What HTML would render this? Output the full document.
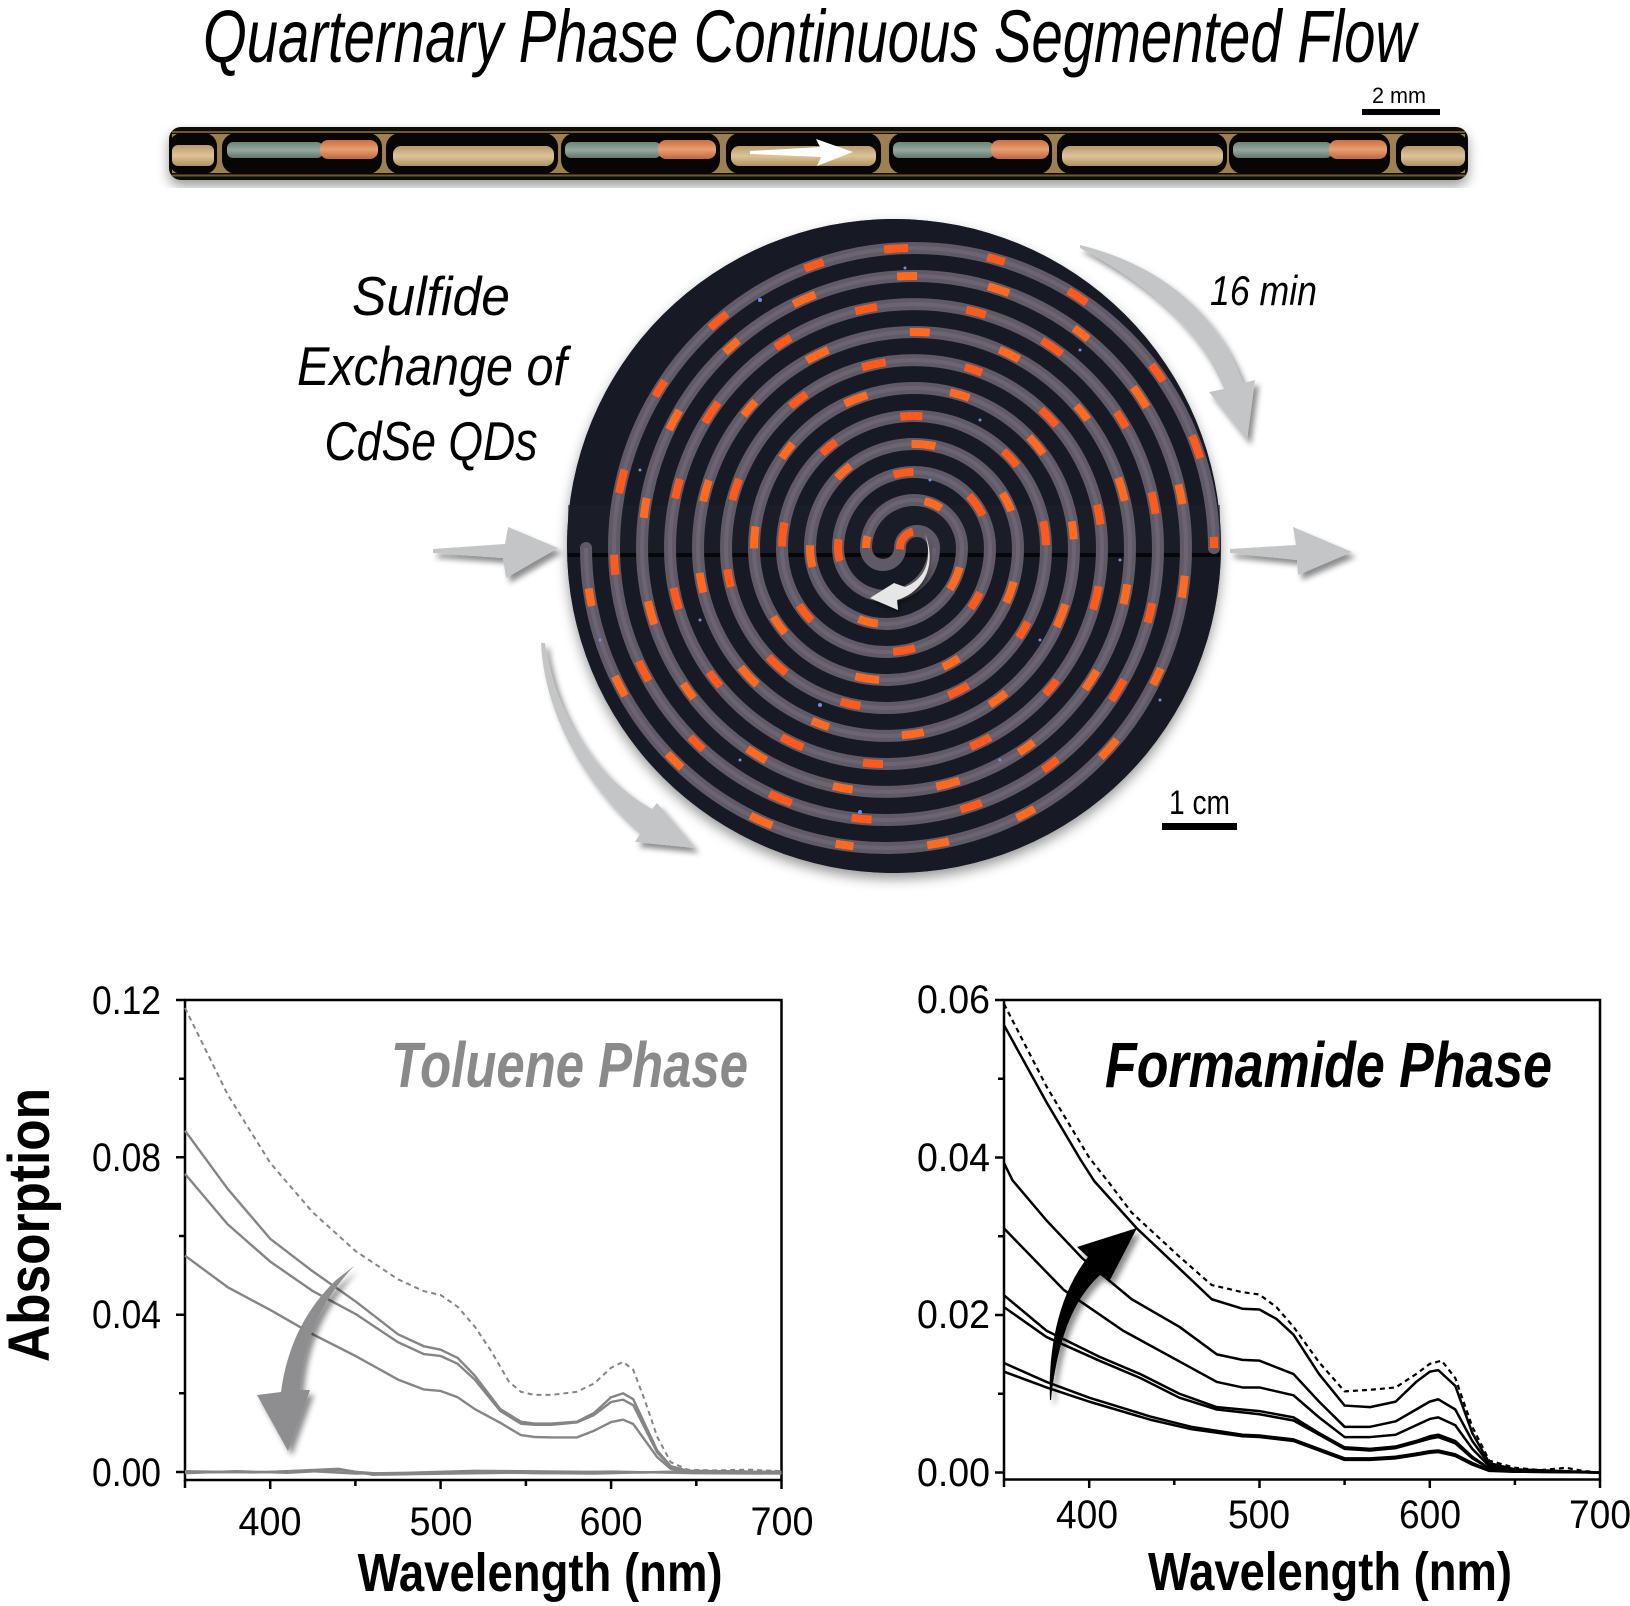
<!DOCTYPE html>
<html>
<head>
<meta charset="utf-8">
<style>
  html,body{margin:0;padding:0;background:#fff;}
  svg{display:block;}
  text{font-family:"Liberation Sans Narrow","Liberation Sans",sans-serif;}
</style>
</head>
<body>
<svg width="1630" height="1606" viewBox="0 0 1630 1606" xmlns="http://www.w3.org/2000/svg">
<defs>
  <filter id="sh" x="-30%" y="-30%" width="170%" height="170%">
    <feDropShadow dx="4" dy="5" stdDeviation="3" flood-color="#000" flood-opacity="0.45"/>
  </filter>
  <filter id="shs" x="-30%" y="-30%" width="170%" height="170%">
    <feDropShadow dx="2" dy="3" stdDeviation="2" flood-color="#000" flood-opacity="0.5"/>
  </filter>
  <filter id="disk" x="-10%" y="-10%" width="120%" height="125%">
    <feDropShadow dx="0" dy="6" stdDeviation="6" flood-color="#000" flood-opacity="0.4"/>
  </filter>
  <linearGradient id="tan" x1="0" y1="0" x2="0" y2="1">
    <stop offset="0" stop-color="#b99b6b"/>
    <stop offset="0.5" stop-color="#dcc398"/>
    <stop offset="1" stop-color="#b0925f"/>
  </linearGradient>
  <linearGradient id="grn" x1="0" y1="0" x2="0" y2="1">
    <stop offset="0" stop-color="#6d8379"/>
    <stop offset="0.5" stop-color="#93a99f"/>
    <stop offset="1" stop-color="#61776d"/>
  </linearGradient>
  <linearGradient id="org" x1="0" y1="0" x2="0" y2="1">
    <stop offset="0" stop-color="#c86e44"/>
    <stop offset="0.5" stop-color="#e8a070"/>
    <stop offset="1" stop-color="#bd6640"/>
  </linearGradient>
</defs>

<!-- Title -->
<text x="203" y="62" font-size="74" font-style="italic" textLength="1213" lengthAdjust="spacingAndGlyphs" fill="#000">Quarternary Phase Continuous Segmented Flow</text>

<!-- 2 mm scale -->
<text x="1372" y="103" font-size="22" textLength="54" lengthAdjust="spacingAndGlyphs" fill="#000">2 mm</text>
<rect x="1362" y="109" width="78" height="6" fill="#000"/>

<!-- Tube -->
<g filter="url(#disk)">
  <rect x="169" y="127" width="1299" height="53" rx="12" fill="#0b0906"/>
</g>
<rect x="172" y="131" width="1293" height="2" fill="#6e5636"/>
<rect x="172" y="174.5" width="1293" height="2" fill="#6e5636"/>
<rect x="172" y="134" width="1293" height="39" fill="#9c7f52"/>
<g fill="#070605">
  <rect x="169" y="133" width="48" height="41" rx="13"/>
  <rect x="222" y="133" width="160" height="41" rx="14"/>
  <rect x="386" y="133" width="172" height="41" rx="14"/>
  <rect x="561" y="133" width="159" height="41" rx="14"/>
  <rect x="726" y="133" width="155" height="41" rx="14"/>
  <rect x="889" y="133" width="163" height="41" rx="14"/>
  <rect x="1057" y="133" width="170" height="41" rx="14"/>
  <rect x="1229" y="133" width="161" height="41" rx="14"/>
  <rect x="1396" y="133" width="72" height="41" rx="13"/>
</g>
<g>
  <rect x="172" y="145" width="42" height="21" rx="6" fill="url(#tan)"/>
  <rect x="227" y="142" width="96" height="16" rx="6" fill="url(#grn)"/>
  <rect x="320" y="140" width="58" height="19" rx="8" fill="url(#org)"/>
  <rect x="393" y="146" width="161" height="20" rx="8" fill="url(#tan)"/>
  <rect x="565" y="142" width="96" height="16" rx="6" fill="url(#grn)"/>
  <rect x="658" y="140" width="58" height="19" rx="8" fill="url(#org)"/>
  <rect x="731" y="146" width="145" height="20" rx="8" fill="url(#tan)"/>
  <rect x="893" y="142" width="101" height="16" rx="6" fill="url(#grn)"/>
  <rect x="991" y="140" width="58" height="19" rx="8" fill="url(#org)"/>
  <rect x="1062" y="146" width="161" height="20" rx="8" fill="url(#tan)"/>
  <rect x="1233" y="142" width="99" height="16" rx="6" fill="url(#grn)"/>
  <rect x="1329" y="140" width="58" height="19" rx="8" fill="url(#org)"/>
  <rect x="1401" y="146" width="64" height="20" rx="7" fill="url(#tan)"/>
</g>
<polygon points="750,151 820,147 816,139 853,152 817,166 821,157 750,154" fill="#ffffff"/>

<!-- Disk -->
<circle cx="894" cy="546" r="327" fill="#161922" filter="url(#disk)"/>
<circle cx="894" cy="546" r="327" fill="#171a24"/>
<rect x="568" y="505" width="652" height="48" fill="#1c1f29" opacity="0.6"/>
<line x1="568" y1="555" x2="1220" y2="555" stroke="#06070b" stroke-width="4"/>

<!-- Spiral -->
<g transform="translate(900,548) scale(1,-1)" fill="none">
  <g stroke="#605966" stroke-width="12" stroke-linecap="round">
    <path d="M-34,0 A17,17 0 0 1 0,0 A17,17 0 0 0 34,0"/>
    <path d="M34,0 A48,48 0 0 0 -62,0 A76,76 0 0 0 90,0 A104,104 0 0 0 -118,0 A132,132 0 0 0 146,0 A160,160 0 0 0 -174,0 A188,188 0 0 0 202,0 A216,216 0 0 0 -230,0 A244,244 0 0 0 258,0 A272,272 0 0 0 -286,0 A300,300 0 0 0 314,0"/>
    <path transform="rotate(180)" d="M34,0 A48,48 0 0 0 -62,0 A76,76 0 0 0 90,0 A104,104 0 0 0 -118,0 A132,132 0 0 0 146,0 A160,160 0 0 0 -174,0 A188,188 0 0 0 202,0 A216,216 0 0 0 -230,0 A244,244 0 0 0 258,0 A272,272 0 0 0 -286,0 A300,300 0 0 0 314,0"/>
  </g>
  <g stroke="#7b7381" stroke-width="4" opacity="0.45">
    <path d="M34,0 A48,48 0 0 0 -62,0 A76,76 0 0 0 90,0 A104,104 0 0 0 -118,0 A132,132 0 0 0 146,0 A160,160 0 0 0 -174,0 A188,188 0 0 0 202,0 A216,216 0 0 0 -230,0 A244,244 0 0 0 258,0 A272,272 0 0 0 -286,0 A300,300 0 0 0 314,0"/>
    <path transform="rotate(180)" d="M34,0 A48,48 0 0 0 -62,0 A76,76 0 0 0 90,0 A104,104 0 0 0 -118,0 A132,132 0 0 0 146,0 A160,160 0 0 0 -174,0 A188,188 0 0 0 202,0 A216,216 0 0 0 -230,0 A244,244 0 0 0 258,0 A272,272 0 0 0 -286,0 A300,300 0 0 0 314,0"/>
  </g>
  <g stroke="#ff5a1e" stroke-width="8">
    <path stroke-dasharray="20 62 24 80 18 70 22 90" stroke-dashoffset="30" d="M-34,0 A17,17 0 0 1 0,0 A17,17 0 0 0 34,0 A48,48 0 0 0 -62,0 A76,76 0 0 0 90,0 A104,104 0 0 0 -118,0 A132,132 0 0 0 146,0 A160,160 0 0 0 -174,0 A188,188 0 0 0 202,0 A216,216 0 0 0 -230,0 A244,244 0 0 0 258,0 A272,272 0 0 0 -286,0 A300,300 0 0 0 314,0"/>
    <path transform="rotate(180)" stroke="#ff6a22" stroke-dasharray="22 74 18 66 24 84 20 72" stroke-dashoffset="10" d="M34,0 A48,48 0 0 0 -62,0 A76,76 0 0 0 90,0 A104,104 0 0 0 -118,0 A132,132 0 0 0 146,0 A160,160 0 0 0 -174,0 A188,188 0 0 0 202,0 A216,216 0 0 0 -230,0 A244,244 0 0 0 258,0 A272,272 0 0 0 -286,0 A300,300 0 0 0 314,0"/>
  </g>
</g>
<g fill="#6f8ee0">
  <circle cx="760" cy="300" r="2"/><circle cx="905" cy="268" r="1.5"/><circle cx="980" cy="420" r="1.5"/>
  <circle cx="700" cy="620" r="1.5"/><circle cx="820" cy="705" r="2"/><circle cx="1040" cy="640" r="1.5"/>
  <circle cx="1120" cy="560" r="1.5"/><circle cx="640" cy="470" r="1.5"/><circle cx="860" cy="812" r="2"/>
  <circle cx="1000" cy="760" r="1.5"/><circle cx="740" cy="760" r="1.5"/><circle cx="1160" cy="700" r="1.5"/>
  <circle cx="930" cy="480" r="1.5"/><circle cx="1080" cy="350" r="1.5"/><circle cx="600" cy="640" r="1.5"/>
</g>

<!-- Gray flow arrows -->
<g fill="#c4c5c7" filter="url(#sh)">
  <polygon points="433,549 505,544 508,527 558,548 506,578 503,558 433,553"/>
  <polygon points="1230,549 1296,545 1293,527 1352,552 1298,575 1297,560 1230,553"/>
  <path d="M1080,245 C1150,262 1215,305 1243,383 L1255,380 L1247,440 L1209,392 L1224,389 C1200,330 1150,285 1080,248 Z"/>
  <path d="M541,643 C545,720 590,790 641,832 L635,842 L695,848 L657,803 L652,809 C600,780 556,720 545,643 Z"/>
</g>
<path d="M925,534 C932,556 928,578 905,587 L894,583 L870,598 L898,610 L897,600 C928,590 936,560 925,534 Z" fill="#e6e6e6" filter="url(#shs)"/>

<!-- Middle labels -->
<g font-style="italic" fill="#000" font-size="55" text-anchor="middle">
  <text x="431" y="315" textLength="158" lengthAdjust="spacingAndGlyphs">Sulfide</text>
  <text x="432" y="385" textLength="270" lengthAdjust="spacingAndGlyphs">Exchange of</text>
  <text x="431" y="460" textLength="213" lengthAdjust="spacingAndGlyphs">CdSe QDs</text>
</g>
<text x="1210" y="305" font-size="42" font-style="italic" textLength="107" lengthAdjust="spacingAndGlyphs">16 min</text>
<text x="1169" y="814" font-size="34" textLength="61" lengthAdjust="spacingAndGlyphs">1 cm</text>
<rect x="1162" y="823" width="75" height="7" fill="#000"/>

<!-- ===== LEFT PLOT ===== -->
<g stroke="#000" stroke-width="2.5" fill="none">
  <rect x="185" y="1000" width="596.5" height="480"/>
  <path d="M176,1000H185 M176,1157.3H185 M176,1314.7H185 M176,1472H185 M179,1078.7H185 M179,1236H185 M179,1393.3H185"/>
  <path d="M185,1480V1488 M270.2,1480V1489 M355.4,1480V1486 M440.6,1480V1489 M525.9,1480V1486 M611.1,1480V1489 M696.3,1480V1486 M781.5,1480V1489"/>
</g>
<g font-size="40" fill="#000">
  <g text-anchor="end">
    <text x="161" y="1014" textLength="69" lengthAdjust="spacingAndGlyphs">0.12</text>
    <text x="161" y="1171" textLength="69" lengthAdjust="spacingAndGlyphs">0.08</text>
    <text x="161" y="1328" textLength="69" lengthAdjust="spacingAndGlyphs">0.04</text>
    <text x="161" y="1486" textLength="69" lengthAdjust="spacingAndGlyphs">0.00</text>
  </g>
  <g text-anchor="middle">
    <text x="270" y="1535" textLength="63" lengthAdjust="spacingAndGlyphs">400</text>
    <text x="441" y="1535" textLength="63" lengthAdjust="spacingAndGlyphs">500</text>
    <text x="611" y="1535" textLength="63" lengthAdjust="spacingAndGlyphs">600</text>
    <text x="782" y="1535" textLength="63" lengthAdjust="spacingAndGlyphs">700</text>
  </g>
</g>
<text x="357.6" y="1591" font-size="54" font-weight="bold" textLength="365" lengthAdjust="spacingAndGlyphs">Wavelength (nm)</text>
<text transform="translate(49,1225) rotate(-90)" text-anchor="middle" font-size="58" font-weight="bold" textLength="274" lengthAdjust="spacingAndGlyphs">Absorption</text>
<text x="391" y="1087" font-size="64" font-weight="bold" font-style="italic" fill="#8a8a8a" textLength="357" lengthAdjust="spacingAndGlyphs">Toluene Phase</text>

<g transform="translate(-411.5,1472) scale(1.7043,-3.933)" fill="none" stroke="#858585" stroke-linejoin="round">
  <polyline vector-effect="non-scaling-stroke" stroke-width="2" stroke-dasharray="5 4" points="350,118 375,96 400,78.6 425,66 450,56.2 475,49 490,46 500,45 510,42 520,37 530,30.5 540,23 547,20.4 555,19.6 565,19.6 580,20.4 590,22.5 600,26.5 607,28 613,26 620,18 627,9 635,2.5 645,0.6 660,0.4 680,0.6 700,0.2"/>
  <polyline vector-effect="non-scaling-stroke" stroke-width="2.4" points="350,86.8 375,72 400,59.3 425,51 450,43.4 475,35 490,32 500,31.1 510,29 520,24.5 535,16 547,12.8 555,12.3 565,12.3 580,12.8 590,15 600,19 607,20 613,18.5 620,12 627,5.5 635,1.5 645,0.3 700,0"/>
  <polyline vector-effect="non-scaling-stroke" stroke-width="2.4" points="350,75.8 375,63 400,53.5 425,46 450,40.2 475,33 490,30 500,29.5 510,27.5 520,23.5 535,15.5 547,12.3 555,12 565,12 580,12.6 590,14.5 600,17.8 607,18.4 613,17 620,11 627,5 635,1.3 645,0.3 700,0"/>
  <polyline vector-effect="non-scaling-stroke" stroke-width="2.4" points="350,55 375,47 400,41.2 425,35 450,29.5 475,23.5 490,21 500,20.6 510,19 520,16 535,12.5 547,9.4 555,8.9 565,8.8 580,8.8 590,10.5 600,12.7 607,13.3 613,12.2 620,8 627,3.8 635,0.8 645,0.2 700,0"/>
  <polyline vector-effect="non-scaling-stroke" stroke-width="2.4" points="350,-0.3 380,0.2 410,-0.2 440,0.5 445,0.2 470,-0.6 500,-0.3 530,0 560,-0.3 600,0.1 650,-0.3 700,-0.4"/>
  <polyline vector-effect="non-scaling-stroke" stroke-width="2.4" points="350,0.2 390,-0.1 420,0.3 450,-0.4 480,-0.2 520,0.3 570,0.1 620,-0.1 660,0.2 700,0"/>
  <polyline vector-effect="non-scaling-stroke" stroke-width="2.4" points="350,-0.1 400,0 440,0.8 460,-0.7 490,-0.5 540,-0.2 590,-0.4 640,0.1 700,-0.2"/>
</g>
<path d="M354,1266 L336,1280 C310,1305 288,1340 281,1392 L257,1395 L288,1451 L310,1390 L300,1390 C303,1340 322,1300 354,1266 Z" fill="#8e8e90" filter="url(#sh)"/>

<!-- ===== RIGHT PLOT ===== -->
<g stroke="#000" stroke-width="2.5" fill="none">
  <rect x="1004" y="1000" width="596" height="479.5"/>
  <path d="M995,1000H1004 M995,1157.5H1004 M995,1315H1004 M995,1472.5H1004 M998,1078.7H1004 M998,1236.2H1004 M998,1393.7H1004"/>
  <path d="M1004,1479.5V1487 M1089.2,1479.5V1488 M1174.3,1479.5V1485 M1259.5,1479.5V1488 M1344.6,1479.5V1485 M1429.8,1479.5V1488 M1514.9,1479.5V1485 M1600,1479.5V1488"/>
</g>
<g font-size="40" fill="#000">
  <g text-anchor="end">
    <text x="990" y="1013" textLength="73" lengthAdjust="spacingAndGlyphs">0.06</text>
    <text x="990" y="1171" textLength="73" lengthAdjust="spacingAndGlyphs">0.04</text>
    <text x="990" y="1328" textLength="73" lengthAdjust="spacingAndGlyphs">0.02</text>
    <text x="990" y="1486" textLength="73" lengthAdjust="spacingAndGlyphs">0.00</text>
  </g>
  <g text-anchor="middle">
    <text x="1087" y="1528" textLength="62" lengthAdjust="spacingAndGlyphs">400</text>
    <text x="1259" y="1528" textLength="62" lengthAdjust="spacingAndGlyphs">500</text>
    <text x="1430" y="1528" textLength="62" lengthAdjust="spacingAndGlyphs">600</text>
    <text x="1600" y="1528" textLength="62" lengthAdjust="spacingAndGlyphs">700</text>
  </g>
</g>
<text x="1148" y="1590" font-size="54" font-weight="bold" textLength="364" lengthAdjust="spacingAndGlyphs">Wavelength (nm)</text>
<text x="1105" y="1087" font-size="64" font-weight="bold" font-style="italic" fill="#000" textLength="447" lengthAdjust="spacingAndGlyphs">Formamide Phase</text>

<g transform="translate(407.95,1472.5) scale(1.703,-7.875)" fill="none" stroke="#000" stroke-linejoin="round">
  <polyline vector-effect="non-scaling-stroke" stroke-width="2.2" stroke-dasharray="5 4" points="350,59.5 375,49 400,40 412,36.7 425,33 453,27.4 472,23.8 490,22.9 500,22.6 510,21 520,18.5 535,14 550,10.3 565,10.5 580,10.8 592,12.5 600,13.8 607,14.2 615,12 625,5.8 635,1.5 650,0.6 665,0.3 680,0.6 690,0.2 700,0"/>
  <polyline vector-effect="non-scaling-stroke" stroke-width="2.5" points="350,56.8 375,47 395,39.7 403,37 428,31 453,25.9 472,22 490,20.8 500,20.7 510,19.5 520,17.5 535,12.5 550,8.5 565,8.3 580,9 592,11.5 600,12.8 605,13 615,11 625,5 635,1.2 650,0.4 700,0"/>
  <polyline vector-effect="non-scaling-stroke" stroke-width="2.5" points="350,39.3 355,37.1 375,32 396,27.2 425,22 453,18.5 475,15 490,14.3 500,14.2 520,12.5 535,9 550,5.8 565,5.8 580,6.5 592,8 600,9 605,9.3 615,8 625,4 635,1 650,0.3 700,0"/>
  <polyline vector-effect="non-scaling-stroke" stroke-width="2.5" points="350,31 385,23.2 420,18 453,14.1 475,11.5 490,10.8 500,10.8 520,9.8 535,7 550,4.5 565,4.5 580,4.8 592,6 600,6.8 605,7 615,6 625,3 635,0.8 650,0.2 700,0"/>
  <polyline vector-effect="non-scaling-stroke" stroke-width="2.5" points="350,22.5 375,18 406,14.7 430,12.5 453,10 475,8.3 500,7.8 520,7 535,5 550,3.2 565,3 580,3.3 592,4 600,4.6 605,4.8 615,4 625,2 635,0.5 650,0.2 700,0"/>
  <polyline vector-effect="non-scaling-stroke" stroke-width="2.5" points="350,21 375,17.2 406,14.2 430,12 453,9.5 475,8 500,7.4 520,6.6 535,4.8 550,3 565,2.8 580,3.1 592,3.8 600,4.3 605,4.5 615,3.7 625,1.8 635,0.5 650,0.2 700,0"/>
  <polyline vector-effect="non-scaling-stroke" stroke-width="2.5" points="350,13.9 375,11.5 400,9.5 436,7.1 460,5.8 490,4.8 500,4.7 520,4.2 535,3 550,1.8 565,1.8 580,2 592,2.4 600,2.7 605,2.8 615,2.3 625,1.2 635,0.3 650,0.1 700,0"/>
  <polyline vector-effect="non-scaling-stroke" stroke-width="2.5" points="350,12.8 375,10.8 400,9 436,6.7 460,5.5 490,4.6 500,4.5 520,4 535,2.8 550,1.6 565,1.6 580,1.8 592,2.2 600,2.5 605,2.6 615,2.1 625,1 635,0.2 650,0.1 700,0"/>
</g>
<path d="M1050,1400 C1048,1350 1058,1295 1088,1257 L1077,1247 L1137,1228 L1110,1280 L1100,1275 C1075,1298 1058,1335 1051,1400 Z" fill="#000" filter="url(#sh)"/>
</svg>
</body>
</html>
